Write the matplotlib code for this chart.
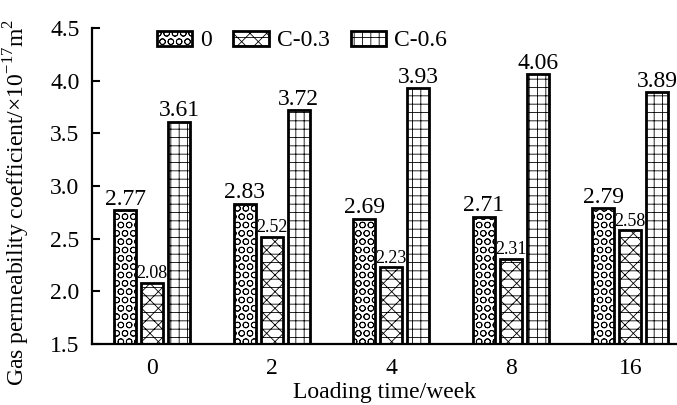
import matplotlib
matplotlib.use("Agg")
import matplotlib.pyplot as plt
import numpy as np

categories = ["0", "2", "4", "8", "16"]
series_names = ["0", "C-0.3", "C-0.6"]
vals_0 = [2.77, 2.83, 2.69, 2.71, 2.79]
vals_c03 = [2.08, 2.52, 2.23, 2.31, 2.58]
vals_c06 = [3.61, 3.72, 3.93, 4.06, 3.89]
yticks = [1.5, 2.0, 2.5, 3.0, 3.5, 4.0, 4.5]

plt.rcParams['font.family'] = ['Liberation Serif', 'DejaVu Serif']
plt.rcParams['hatch.linewidth'] = 0.6
plt.rcParams['hatch.color'] = '#555555'
plt.rcParams['mathtext.fontset'] = 'custom'
plt.rcParams['mathtext.rm'] = 'Liberation Serif'

FS = 17
fig = plt.figure(figsize=(6.77, 4.05), dpi=100)
ax = fig.add_axes([0.1359, 0.1506, 0.8641, 0.7803])

x = np.arange(len(categories))
w = 0.185
off = 0.226
hatches = ['OO', 'xx--', '++']
all_vals = [vals_0, vals_c03, vals_c06]
offsets = [-off, 0, off]
for i, (vals, name) in enumerate(zip(all_vals, series_names)):
    ax.bar(x + offsets[i], vals, width=w, bottom=0, color='white',
           edgecolor='black', linewidth=2.0, hatch=hatches[i], label=name)
    for xi, v in zip(x + offsets[i], vals):
        if i == 1:
            ax.text(xi, v + 0.005, f"{v:.2f}", ha='center', va='bottom', fontsize=13)
        else:
            ax.text(xi, v + 0.005, f"{v:.2f}", ha='center', va='bottom', fontsize=FS)

ax.set_ylim(1.5, 4.5)
ax.set_xlim(-0.502, 4.39)
ax.set_yticks(yticks)
ax.set_yticklabels([f"{t:.1f}" for t in yticks], fontsize=FS)
ax.set_xticks(x)
ax.set_xticklabels(categories, fontsize=FS)
ax.tick_params(axis='x', length=0, pad=10)
ax.tick_params(axis='y', direction='in', length=6, width=1.5, pad=9)
for s in ['top', 'right']:
    ax.spines[s].set_visible(False)
for s in ['left', 'bottom']:
    ax.spines[s].set_linewidth(1.6)

ax.set_xlabel("Loading time/week", fontsize=FS, labelpad=2)
ax.set_ylabel("Gas permeability coefficient/×10$^{-17}$m$^{2}$", fontsize=FS)
ax.yaxis.set_label_coords(-0.103, 0.449)

leg = ax.legend(loc='center left', bbox_to_anchor=(0.111, 0.959), ncol=3, frameon=False,
                fontsize=FS, handlelength=1.5, handleheight=0.6, columnspacing=0.9,
                handletextpad=0.34, borderpad=0, borderaxespad=0)

fig.savefig("out.png", dpi=100)
